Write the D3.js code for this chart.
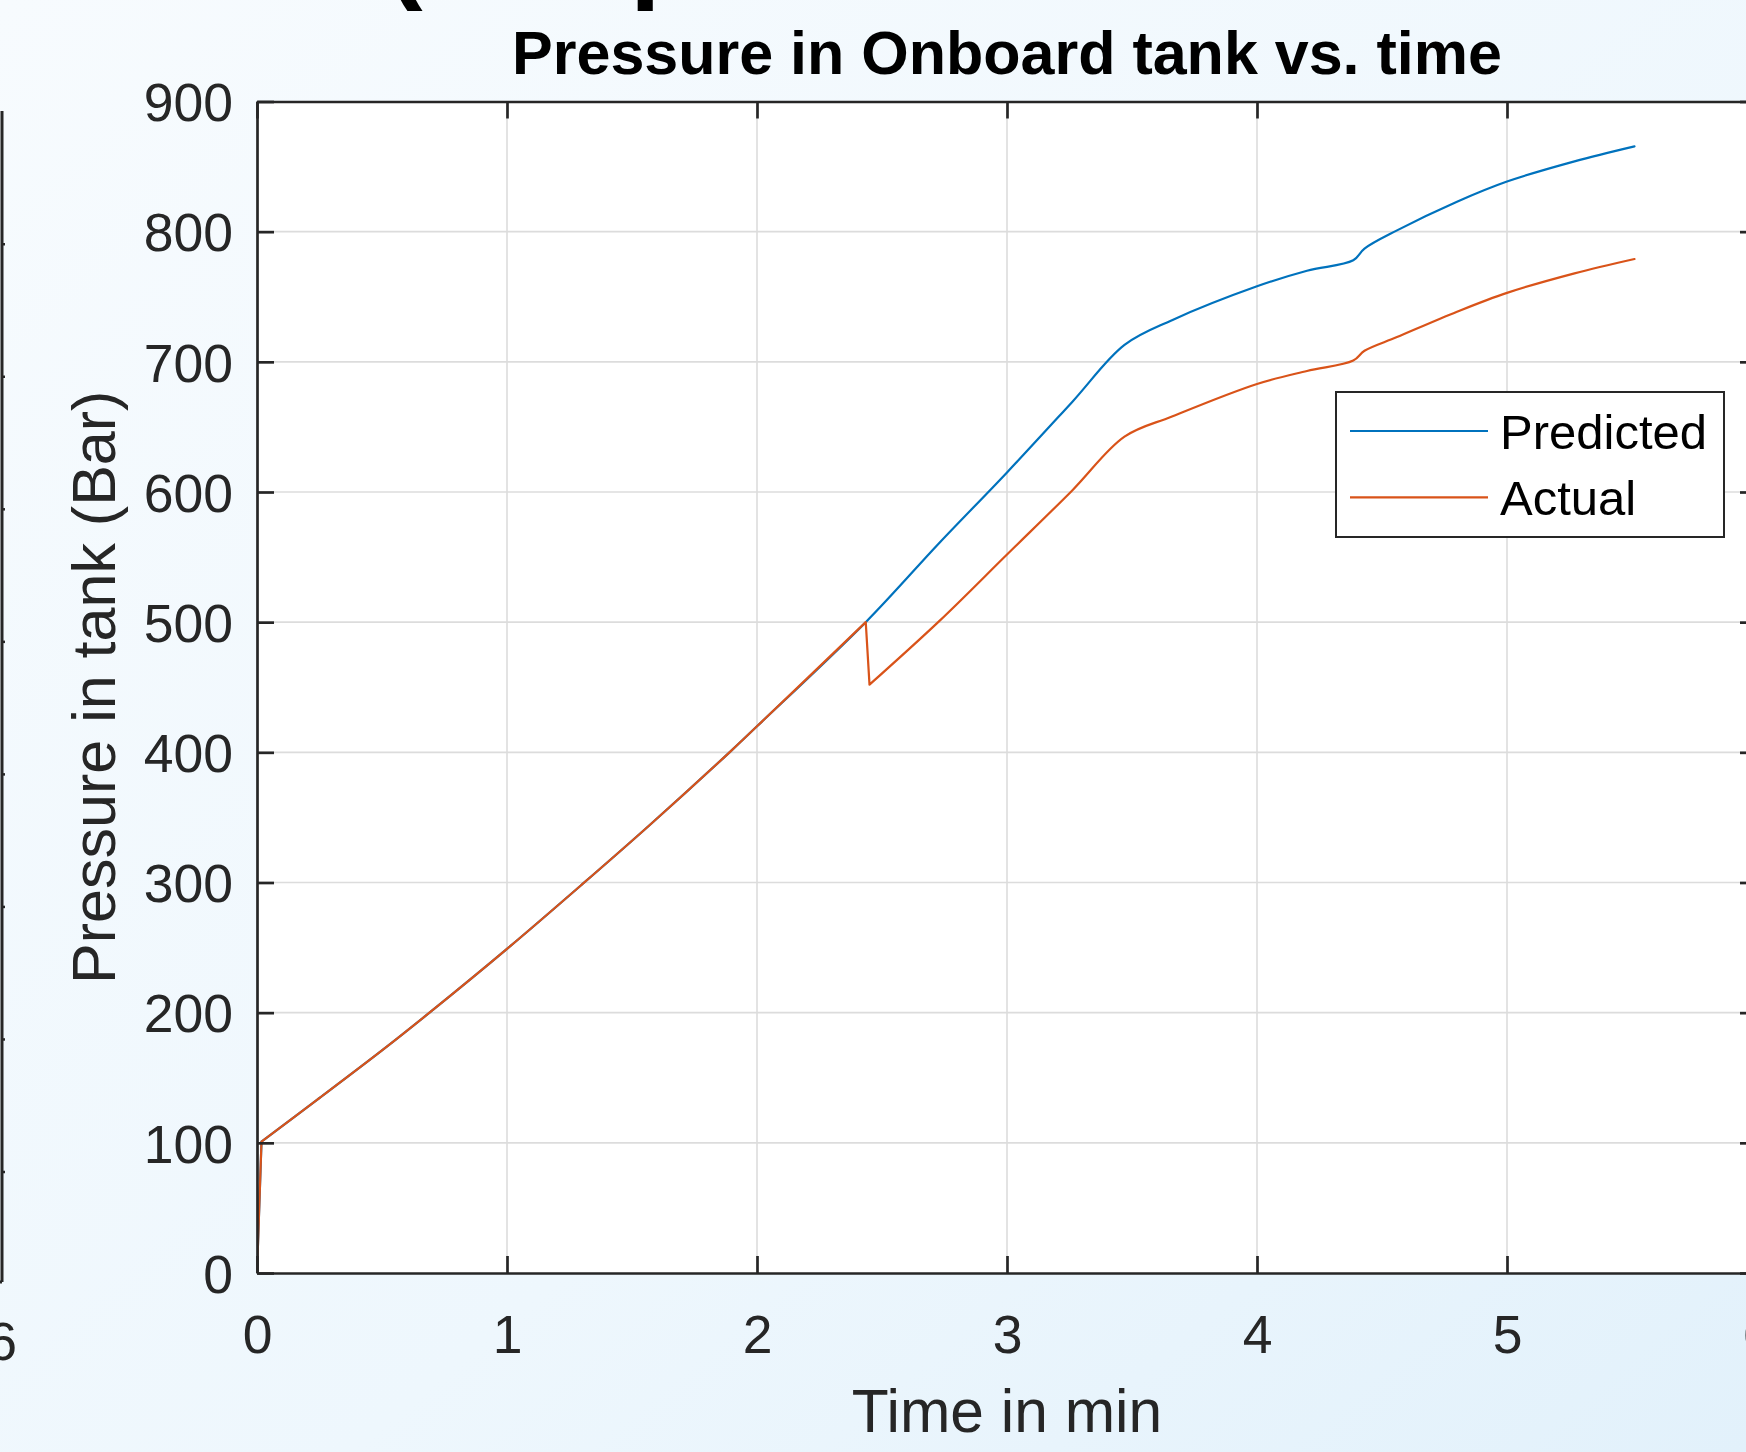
<!DOCTYPE html>
<html>
<head>
<meta charset="utf-8">
<script src="https://cdn.jsdelivr.net/npm/d3@7"></script>
<style>
  body { margin: 0; padding: 0; overflow: hidden; }
  svg { display: block; font-family: "Liberation Sans", Arial, Helvetica, sans-serif; }
</style>
</head>
<body>
<svg id="chart"></svg>
<script>
// data
var timePred  = [0, 0.018, 0.24, 0.5, 0.69, 1.0, 1.3, 1.57, 1.89, 2.0, 2.435, 2.73, 3.0, 3.26, 3.47, 3.66, 4.0, 4.2, 4.385, 4.43, 4.56, 4.8, 5.0, 5.27, 5.51];
var pressPred = [0, 101, 133, 171, 200, 249, 298.5, 344, 400, 420, 500, 561, 615, 669, 713, 732, 758, 770, 778, 787, 801, 823, 838.5, 854, 865.5];

var timeAct  = [0, 0.018, 0.24, 0.5, 0.69, 1.0, 1.3, 1.57, 1.89, 2.0, 2.435, 2.45, 2.73, 3.0, 3.26, 3.47, 3.66, 4.0, 4.2, 4.385, 4.43, 4.56, 4.8, 5.0, 5.27, 5.51];
var pressAct = [0, 101, 133, 171, 200, 249, 298.5, 344, 400, 420, 500, 452, 501, 552, 601, 642.5, 658, 683, 693, 701, 708.5, 719, 738.5, 753, 768, 779];

var xTicks = [0, 1, 2, 3, 4, 5, 6];
var yTicks = [0, 100, 200, 300, 400, 500, 600, 700, 800, 900];
var seriesNames = ["Predicted", "Actual"];
var seriesColors = ["#0072BD", "#D95319"];

const W = 1746, H = 1452;
const axLeft = 257, axRight = 1757, axTop = 101.5, axBottom = 1273;
const tickLen = 17;
const ink = "#262626";

window.onload = function() {
  var svg = d3.select("#chart").attr("width", W).attr("height", H);

  // figure background
  var defs = svg.append("defs");
  var grad = defs.append("linearGradient").attr("id", "bg")
    .attr("x1", "0").attr("y1", "0").attr("x2", "1").attr("y2", "1");
  grad.append("stop").attr("offset", "0").attr("stop-color", "#f7fbfe");
  grad.append("stop").attr("offset", "0.6").attr("stop-color", "#eef7fd");
  grad.append("stop").attr("offset", "1").attr("stop-color", "#e2f1fb");
  svg.append("rect").attr("width", W).attr("height", H).attr("fill", "url(#bg)");

  defs.append("clipPath").attr("id", "plotclip").append("rect")
    .attr("x", axLeft).attr("y", axTop).attr("width", axRight - axLeft).attr("height", axBottom - axTop);

  var x = d3.scaleLinear().domain([0, 6]).range([axLeft, axRight]);
  var y = d3.scaleLinear().domain([0, 900]).range([axBottom, axTop]);

  // plot area
  svg.append("rect").attr("x", axLeft).attr("y", axTop)
    .attr("width", axRight - axLeft).attr("height", axBottom - axTop).attr("fill", "#fff");

  // grid
  var grid = svg.append("g").attr("stroke", "#dcdcdc").attr("stroke-width", 1.6);
  grid.selectAll("line.gx").data(xTicks.slice(1, -1)).enter().append("line")
    .attr("x1", d => x(d)).attr("x2", d => x(d)).attr("y1", axTop).attr("y2", axBottom);
  grid.selectAll("line.gy").data(yTicks.slice(1, -1)).enter().append("line")
    .attr("y1", d => y(d)).attr("y2", d => y(d)).attr("x1", axLeft).attr("x2", axRight);

  // lines: smooth pieces, straight at the jumps
  var smooth = d3.line().x(d => x(d[0])).y(d => y(d[1])).curve(d3.curveCatmullRom.alpha(0.5));
  var straight = d3.line().x(d => x(d[0])).y(d => y(d[1]));
  function piecewise(pts, cuts) {
    // cuts: index of the first point of each straight segment
    var d = "", start = 0;
    cuts.forEach(function(c) {
      if (c > start) d += smooth(pts.slice(start, c + 1));
      d += straight(pts.slice(c, c + 2));
      start = c + 1;
    });
    if (start < pts.length - 1) d += smooth(pts.slice(start));
    return d;
  }
  var predPts = timePred.map((t, i) => [t, pressPred[i]]);
  var actPts = timeAct.map((t, i) => [t, pressAct[i]]);
  var lines = svg.append("g").attr("clip-path", "url(#plotclip)")
    .attr("fill", "none").attr("stroke-width", 2.2).attr("stroke-linejoin", "round").attr("stroke-linecap", "round");
  lines.append("path").attr("d", piecewise(predPts, [0])).attr("stroke", seriesColors[0]);
  lines.append("path").attr("d", piecewise(actPts, [0, 10])).attr("stroke", seriesColors[1]);

  // axes
  function styleAxis(g) {
    g.select(".domain").attr("stroke", ink).attr("stroke-width", 2.7);
    g.selectAll(".tick line").attr("stroke", ink).attr("stroke-width", 2.7);
    g.selectAll(".tick text").attr("fill", ink).attr("font-size", 53.5);
  }

  var xAxis = svg.append("g").attr("transform", "translate(0," + axBottom + ")")
    .call(d3.axisBottom(x).tickValues(xTicks).tickSize(-tickLen).tickSizeOuter(0).tickPadding(42).tickFormat(d3.format("d")));
  styleAxis(xAxis);
  xAxis.selectAll(".tick text").attr("dy", "0.71em");

  var xTop = svg.append("g").attr("transform", "translate(0," + axTop + ")")
    .call(d3.axisTop(x).tickValues(xTicks).tickSize(-tickLen).tickSizeOuter(0).tickFormat(""));
  styleAxis(xTop);

  var yAxis = svg.append("g").attr("transform", "translate(" + axLeft + ",0)")
    .call(d3.axisLeft(y).tickValues(yTicks).tickSize(-tickLen).tickSizeOuter(0).tickPadding(24).tickFormat(d3.format("d")));
  styleAxis(yAxis);
  yAxis.selectAll(".tick text").attr("dy", "0.36em");

  var yRight = svg.append("g").attr("transform", "translate(" + axRight + ",0)")
    .call(d3.axisRight(y).tickValues(yTicks).tickSize(-tickLen).tickSizeOuter(0).tickFormat(""));
  styleAxis(yRight);

  // title and labels
  svg.append("text").attr("x", (axLeft + axRight) / 2).attr("y", 74)
    .attr("text-anchor", "middle").attr("font-size", 61).attr("font-weight", "bold").attr("fill", "#000")
    .text("Pressure in Onboard tank vs. time");

  svg.append("text").attr("x", (axLeft + axRight) / 2).attr("y", 1432)
    .attr("text-anchor", "middle").attr("font-size", 60.5).attr("fill", ink)
    .text("Time in min");

  svg.append("text").attr("transform", "translate(115," + ((axTop + axBottom) / 2) + ") rotate(-90)")
    .attr("text-anchor", "middle").attr("font-size", 61).attr("fill", ink)
    .text("Pressure in tank (Bar)");

  // legend
  var leg = svg.append("g");
  leg.append("rect").attr("x", 1336).attr("y", 392).attr("width", 388).attr("height", 145)
    .attr("fill", "#fff").attr("stroke", ink).attr("stroke-width", 2);
  seriesNames.forEach(function(name, i) {
    var ly = 431 + i * 66.3;
    leg.append("line").attr("x1", 1350).attr("x2", 1488).attr("y1", ly).attr("y2", ly)
      .attr("stroke", seriesColors[i]).attr("stroke-width", 2.2);
    leg.append("text").attr("x", 1500).attr("y", ly + 18).attr("font-size", 49).attr("fill", "#000").text(name);
  });

  // neighbouring panel cut off at the left edge
  var yNb = d3.scaleLinear().domain([0, 8]).range([111.7, 1172]);
  svg.append("line").attr("x1", 2).attr("x2", 2).attr("y1", 111).attr("y2", 1282)
    .attr("stroke", ink).attr("stroke-width", 3);
  svg.append("line").attr("x1", 0).attr("x2", 2).attr("y1", 1282).attr("y2", 1282)
    .attr("stroke", ink).attr("stroke-width", 3);
  svg.selectAll("line.nb").data(d3.range(1, 9)).enter().append("line")
    .attr("x1", 2).attr("x2", 5).attr("y1", d => yNb(d)).attr("y2", d => yNb(d))
    .attr("stroke", ink).attr("stroke-width", 2.5);
  svg.append("text").attr("x", 2).attr("y", 1360).attr("text-anchor", "middle")
    .attr("font-size", 53.5).attr("fill", ink).text("6");

  // bottom edges of a large heading cut off at the top
  svg.append("text").attr("x", 386).attr("y", -12).attr("font-size", 110).attr("font-weight", "bold").attr("fill", "#000").text("(");
  svg.append("text").attr("x", 630).attr("y", -12).attr("font-size", 110).attr("font-weight", "bold").attr("fill", "#000").text("p");
};
</script>
</body>
</html>
